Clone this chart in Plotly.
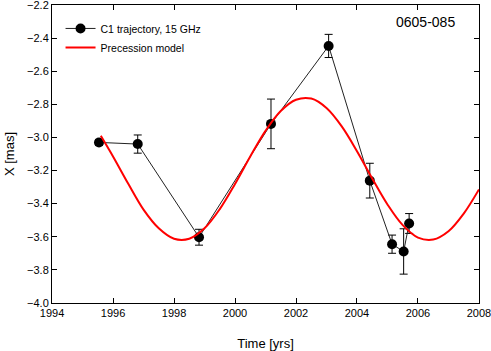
import plotly.graph_objects as go

# C1 trajectory (15 GHz)
obs_year = [1995.54, 1996.81, 1998.82, 2001.18, 2003.07, 2004.42, 2005.15, 2005.53, 2005.71]
obs_x = [-3.03, -3.04, -3.603, -2.918, -2.447, -3.261, -3.645, -3.689, -3.52]
obs_err = [0.018, 0.055, 0.048, 0.15, 0.07, 0.105, 0.055, 0.137, 0.06]

# precession model curve
model_year = [1995.6, 1996.0, 1996.5, 1997.0, 1997.5, 1998.0, 1998.5, 1999.0, 1999.5,
              2000.0, 2000.5, 2001.0, 2001.5, 2002.0, 2002.5, 2003.0, 2003.5, 2004.0,
              2004.5, 2005.0, 2005.5, 2006.0, 2006.5, 2007.0, 2007.5, 2008.0]
model_x = [-2.99, -3.115, -3.28, -3.436, -3.549, -3.612, -3.612, -3.549, -3.433,
           -3.281, -3.115, -2.96, -2.84, -2.772, -2.765, -2.822, -2.933, -3.083,
           -3.248, -3.405, -3.53, -3.605, -3.617, -3.567, -3.46, -3.314]

x_ticks = [1994, 1996, 1998, 2000, 2002, 2004, 2006, 2008]
y_ticks = [-4.0, -3.8, -3.6, -3.4, -3.2, -3.0, -2.8, -2.6, -2.4, -2.2]

FONT = "Liberation Sans, Arial, sans-serif"

fig = go.Figure()
fig.add_trace(go.Scatter(
    x=obs_year, y=obs_x, mode="lines+markers", name="C1 trajectory, 15 GHz",
    line=dict(color="#222222", width=1),
    marker=dict(color="black", size=10),
    error_y=dict(type="data", array=obs_err, color="black", thickness=1, width=4),
))
fig.add_trace(go.Scatter(
    x=model_year, y=model_x, mode="lines", name="Precession model",
    line=dict(color="red", width=2, shape="spline"),
))

axis_common = dict(
    showline=True, linecolor="black", linewidth=1, mirror="ticks",
    ticks="inside", ticklen=5, tickcolor="black", showgrid=False, zeroline=False,
    automargin=False, ticklabeloverflow="allow",
    tickfont=dict(family=FONT, size=11, color="black"),
)
fig.update_xaxes(range=[1993.999, 2008.001], tickvals=x_ticks,
                 title=dict(text="Time [yrs]", standoff=20,
                            font=dict(family=FONT, size=13, color="black")), **axis_common)
fig.update_yaxes(range=[-4.0005, -2.1995], tickvals=y_ticks, tickformat=".1f",
                 title=dict(text="X [mas]", standoff=9, font=dict(family=FONT, size=13, color="black")),
                 **axis_common)

fig.add_annotation(text="0605-085", xref="paper", yref="paper", x=0.948, y=0.975,
                   xanchor="right", yanchor="top", showarrow=False,
                   font=dict(family=FONT, size=14, color="black"))

fig.update_layout(
    width=491, height=351,
    margin=dict(l=52, r=12, t=5, b=48),
    paper_bgcolor="white", plot_bgcolor="white",
    font=dict(family=FONT, color="black"),
    showlegend=True,
    legend=dict(x=0.02, y=0.97, xanchor="left", yanchor="top", bgcolor="rgba(0,0,0,0)",
                font=dict(family=FONT, size=10.5, color="black"), tracegroupgap=0),
)

fig.write_html("out.html", config={"displayModeBar": False},
               post_script="document.body.style.margin='0';")
